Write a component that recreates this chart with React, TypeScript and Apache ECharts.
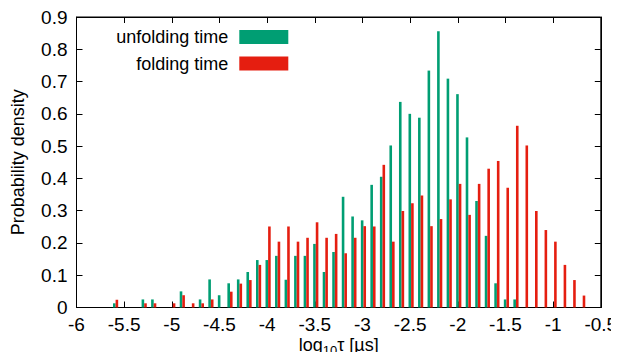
import React, { useEffect, useRef } from "react";
import * as echarts from "echarts";

const binCenters = [
  -5.59, -5.49, -5.39, -5.29, -5.19, -5.09, -4.99, -4.89, -4.79, -4.69,
  -4.59, -4.49, -4.39, -4.29, -4.19, -4.09, -3.99, -3.89, -3.79, -3.69,
  -3.59, -3.49, -3.39, -3.29, -3.19, -3.09, -2.99, -2.89, -2.79, -2.69,
  -2.59, -2.49, -2.39, -2.29, -2.19, -2.09, -1.99, -1.89, -1.79, -1.69,
  -1.59, -1.49, -1.39, -1.29, -1.19, -1.09, -0.99, -0.89, -0.79, -0.69,
];

const unfoldingDensity = [
  0.013, 0, 0, 0.025, 0.025, 0, 0, 0.05, 0, 0.025,
  0.087, 0.038, 0.075, 0.087, 0.11, 0.147, 0.147, 0.16, 0.086, 0.16,
  0.16, 0.197, 0.11, 0.172, 0.343, 0.282, 0.27, 0.38, 0.405, 0.502,
  0.637, 0.6, 0.588, 0.734, 0.856, 0.709, 0.661, 0.527, 0.33, 0.222,
  0.075, 0.025, 0.025, 0, 0, 0, 0, 0, 0, 0,
];

const foldingDensity = [
  0.024, 0, 0, 0.013, 0.013, 0, 0.013, 0.038, 0.013, 0.013,
  0.025, 0, 0.049, 0.074, 0.085, 0.132, 0.251, 0.204, 0.251, 0.204,
  0.216, 0.264, 0.216, 0.228, 0.168, 0.216, 0.252, 0.251, 0.442, 0.204,
  0.299, 0.323, 0.347, 0.252, 0.274, 0.335, 0.383, 0.287, 0.383, 0.43,
  0.454, 0.371, 0.563, 0.502, 0.299, 0.24, 0.204, 0.132, 0.085, 0.037,
];

const seriesNames = ["unfolding time", "folding time"];
const seriesColors = ["#009e73", "#e51e10"];

const FONT = "'Liberation Sans', Arial, Helvetica, sans-serif";

export default function App() {
  const ref = useRef<HTMLDivElement>(null);

  useEffect(() => {
    if (!ref.current) return;
    const chart = echarts.init(ref.current, undefined, { renderer: "svg" });
    const tickCommon = {
      show: true,
      inside: true,
      length: 6,
      lineStyle: { color: "#000", width: 1 },
    };
    const lineCommon = { show: true, onZero: false, lineStyle: { color: "#000", width: 1 } };
    chart.setOption({
      animation: false,
      backgroundColor: "#fff",
      grid: {
        left: 76.5,
        right: 18.2,
        top: 17,
        bottom: 52.5,
        show: true,
        borderColor: "#000",
        borderWidth: 1,
        containLabel: false,
        outerBoundsMode: "none",
      },
      legend: {
        orient: "vertical",
        align: "right",
        right: 330.7,
        top: 28,
        padding: 0,
        itemWidth: 49,
        itemHeight: 14,
        itemGap: 8.5,
        icon: "rect",
        data: seriesNames,
        textStyle: {
          fontFamily: FONT,
          fontSize: 18,
          color: "#000",
          padding: [0, 6, 0, 0],
        },
      },
      xAxis: [
        {
          type: "value",
          min: -6,
          max: -0.5,
          interval: 0.5,
          position: "bottom",
          axisLine: lineCommon,
          axisTick: tickCommon,
          splitLine: { show: false },
          axisLabel: {
            fontFamily: FONT,
            fontSize: 19,
            color: "#000",
            margin: 7,
          },
          name: "{a|log}{sub|10}{a|τ [µs]}",
          nameLocation: "middle",
          nameGap: 28.5,
          nameMoveOverlap: false,
          nameTextStyle: {
            rich: {
              a: { fontFamily: FONT, fontSize: 18, lineHeight: 18, color: "#000" },
              sub: {
                fontFamily: FONT,
                fontSize: 13,
                lineHeight: 13,
                padding: [11, 0, 0, 0],
                color: "#000",
              },
            },
          },
        },
        {
          type: "value",
          min: -6,
          max: -0.5,
          interval: 0.5,
          position: "top",
          axisLine: lineCommon,
          axisTick: tickCommon,
          axisLabel: { show: false },
          splitLine: { show: false },
        },
      ],
      yAxis: [
        {
          type: "value",
          min: 0,
          max: 0.9,
          interval: 0.1,
          position: "left",
          axisLine: lineCommon,
          axisTick: tickCommon,
          splitLine: { show: false },
          axisLabel: {
            fontFamily: FONT,
            fontSize: 19,
            color: "#000",
            margin: 9,
            formatter: (v: number) => (v === 0 ? "0" : v.toFixed(1)),
          },
          name: "Probability density",
          nameLocation: "middle",
          nameGap: 50,
          nameMoveOverlap: false,
          nameTextStyle: { fontFamily: FONT, fontSize: 18, color: "#000" },
        },
        {
          type: "value",
          min: 0,
          max: 0.9,
          interval: 0.1,
          position: "right",
          axisLine: lineCommon,
          axisTick: tickCommon,
          axisLabel: { show: false },
          splitLine: { show: false },
        },
      ],
      series: [
        {
          name: seriesNames[0],
          type: "bar",
          xAxisIndex: 0,
          yAxisIndex: 0,
          barWidth: 2.6,
          barGap: "0%",
          itemStyle: { color: seriesColors[0] },
          data: binCenters.map((c, i) => [c, unfoldingDensity[i]]),
        },
        {
          name: seriesNames[1],
          type: "bar",
          xAxisIndex: 0,
          yAxisIndex: 0,
          barWidth: 2.6,
          barGap: "0%",
          itemStyle: { color: seriesColors[1] },
          data: binCenters.map((c, i) => [c, foldingDensity[i]]),
        },
      ],
    });
    return () => chart.dispose();
  }, []);

  return <div ref={ref} style={{ width: 619, height: 360, margin: -8 }} />;
}
